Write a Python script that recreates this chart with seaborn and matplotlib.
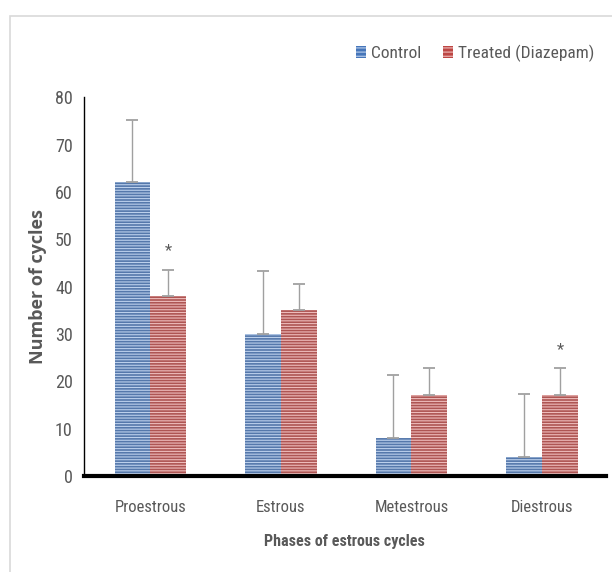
import numpy as np
import pandas as pd
import matplotlib
matplotlib.use('Agg')
import matplotlib.pyplot as plt
import seaborn as sns
from matplotlib import font_manager
from matplotlib.patches import Rectangle

# data
phases = ['Proestrous', 'Estrous', 'Metestrous', 'Diestrous']
groups = ['Control', 'Treated (Diazepam)']
control_mean = [62, 30, 8, 4]
control_err = [13.2, 13.3, 13.4, 13.4]
treated_mean = [38, 35, 17, 17]
treated_err = [5.6, 5.6, 5.7, 5.7]
significant = [False, False, False, False], [True, False, False, True]

df = pd.DataFrame({
    'phase': phases * 2,
    'group': [groups[0]] * 4 + [groups[1]] * 4,
    'value': control_mean + treated_mean,
})

# pick a narrow font if there is one
names = {f.name for f in font_manager.fontManager.ttflist}
narrow = 'DejaVu Sans'
for cand in ['Liberation Sans Narrow', 'Roboto Condensed', 'Open Sans Condensed',
             'Noto Sans Condensed', 'DejaVu Sans Condensed']:
    if cand in names:
        narrow = cand
        break

sns.set_theme(style='white')
plt.rcParams['font.family'] = [narrow, 'DejaVu Sans']
plt.rcParams['font.stretch'] = 'condensed'
plt.rcParams['hatch.linewidth'] = 0.8

blue = '#4676ba'
red = '#bd4744'
light_blue = '#bcd0ec'
light_red = '#eebcbb'
grey = '#595959'

fig = plt.figure(figsize=(6.12, 5.72), dpi=100)
ax = fig.add_axes([0.137, 0.168, 0.853, 0.662])

sns.barplot(data=df, x='phase', y='value', hue='group', order=phases,
            hue_order=groups, palette=[blue, red], width=0.55,
            errorbar=None, legend=False, ax=ax)

errs = [control_err, treated_err]
lights = [light_blue, light_red]
bar_conts = list(ax.containers)
for k, cont in enumerate(bar_conts):
    for i, bar in enumerate(cont.patches):
        bar.set_hatch('------')
        bar.set_edgecolor(lights[k])
        bar.set_linewidth(0)
        cx = bar.get_x() + bar.get_width() / 2
        h = bar.get_height()
        ax.errorbar(cx, h, yerr=[[0], [errs[k][i]]], fmt='none',
                    ecolor='#a0a0a0', elinewidth=1.0, capsize=4.5, capthick=1.3,
                    zorder=1)
        if significant[k][i]:
            ax.text(cx, h + errs[k][i] + 2.5, '*', ha='center', va='bottom',
                    fontsize=12, color=grey)

ax.set_ylim(0, 80)
ax.set_xlim(-0.51, 3.49)
ax.set_yticks(range(0, 81, 10))
ax.tick_params(axis='both', labelsize=13, colors=grey, length=0, pad=8)
ax.tick_params(axis='x', labelsize=12, pad=17)
for s in ['top', 'right']:
    ax.spines[s].set_visible(False)
ax.spines['left'].set_color('black')
ax.spines['left'].set_linewidth(1.0)
ax.spines['bottom'].set_color('black')
ax.spines['bottom'].set_linewidth(3)

ax.set_ylabel('Number of cycles', fontsize=13, fontweight='bold', color=grey,
              family=['Open Sans', 'DejaVu Sans'], labelpad=6)
ax.set_xlabel('Phases of estrous cycles', fontsize=11.5, fontweight='bold',
              color=grey, labelpad=14)

handles = [Rectangle((0, 0), 1, 1, facecolor=blue, edgecolor=light_blue,
                     hatch='----', linewidth=0),
           Rectangle((0, 0), 1, 1, facecolor=red, edgecolor=light_red,
                     hatch='----', linewidth=0)]
leg = fig.legend(handles, groups, loc='center right', bbox_to_anchor=(0.997, 0.907),
                 ncol=2, frameon=False, fontsize=12.5, handlelength=0.6,
                 handleheight=0.7, handletextpad=0.3, columnspacing=1.2)
for t in leg.get_texts():
    t.set_color(grey)

# outer frame
fig.patches.append(Rectangle((0.016, -0.1), 1.2, 1.072, transform=fig.transFigure,
                             fill=False, edgecolor='#d9d9d9', linewidth=1.2))

fig.savefig('out.png', dpi=100)
